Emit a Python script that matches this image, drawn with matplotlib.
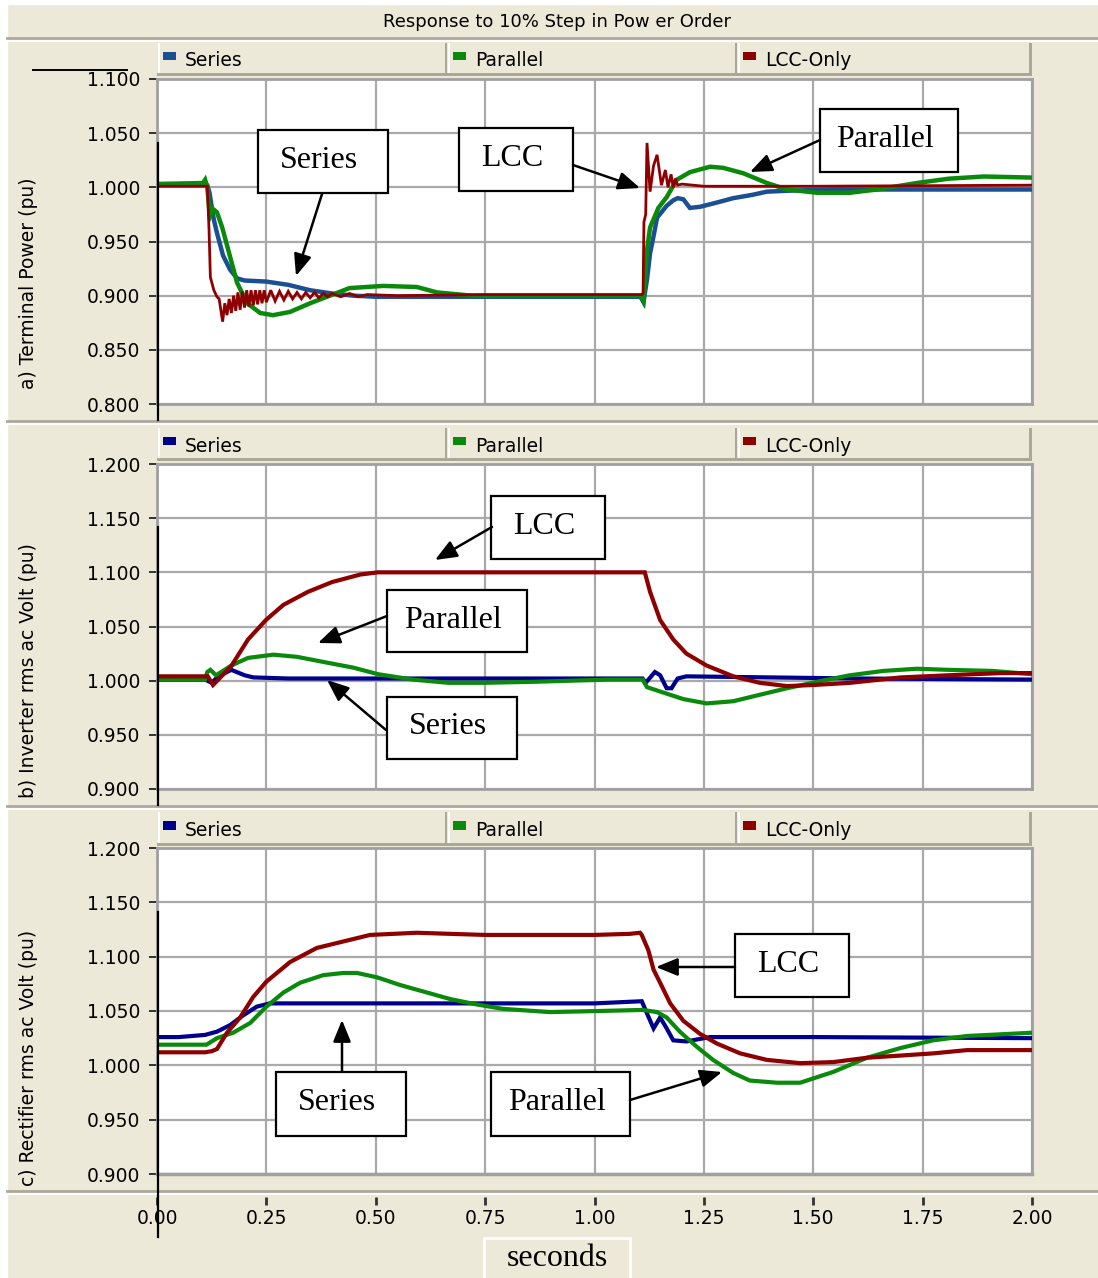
import matplotlib
matplotlib.use('Agg')
import matplotlib.pyplot as plt
from matplotlib.patches import Rectangle, FancyArrowPatch
from matplotlib.lines import Line2D

W, H = 1098, 1278
BEIGE = '#ECE9D8'
EDGE = '#ACA899'
GRID = '#A9A9A9'
GREEN = '#0A8A0A'
RED = '#8E0000'
BLUE_A = '#1A4F93'
NAVY = '#00008C'

# ---- data (time in s, values in pu) ----
# a) terminal power
t_a_ser = [0.00, 0.11, 0.115, 0.12, 0.125, 0.13, 0.137, 0.151, 0.167, 0.183, 0.20, 0.25, 0.30,
           0.35, 0.40, 0.45, 0.50, 0.75, 1.00, 1.105, 1.112, 1.12, 1.127, 1.135, 1.143, 1.155,
           1.165, 1.18, 1.19, 1.203, 1.218, 1.241, 1.28, 1.317, 1.36, 1.394, 1.45, 1.55, 2.00]
p_a_ser = [1.003, 1.003, 1.002, 0.995, 0.982, 0.970, 0.958, 0.937, 0.924, 0.916, 0.914, 0.913, 0.910,
           0.905, 0.902, 0.900, 0.899, 0.899, 0.899, 0.899, 0.894, 0.915, 0.939, 0.955, 0.972, 0.978,
           0.983, 0.988, 0.990, 0.989, 0.981, 0.982, 0.986, 0.990, 0.993, 0.996, 0.997, 0.998, 0.998]

t_a_par = [0.00, 0.105, 0.11, 0.115, 0.121, 0.128, 0.137, 0.149, 0.167, 0.183, 0.206, 0.236, 0.265,
           0.304, 0.35, 0.395, 0.44, 0.517, 0.594, 0.64, 0.72, 1.00, 1.105, 1.112, 1.12, 1.127,
           1.146, 1.165, 1.188, 1.218, 1.264, 1.294, 1.34, 1.394, 1.44, 1.509, 1.584, 1.646,
           1.737, 1.81, 1.89, 2.00]
p_a_par = [1.003, 1.004, 1.007, 1.000, 0.973, 0.980, 0.977, 0.963, 0.936, 0.912, 0.893, 0.884, 0.882,
           0.885, 0.893, 0.900, 0.907, 0.909, 0.908, 0.903, 0.900, 0.900, 0.900, 0.895, 0.942, 0.963,
           0.981, 0.991, 1.007, 1.014, 1.019, 1.018, 1.013, 1.004, 0.998, 0.995, 0.995, 0.998,
           1.004, 1.008, 1.010, 1.009]

t_a_lcc = [0.00, 0.115, 0.119, 0.122, 0.13, 0.137, 0.142, 0.15, 0.155, 0.16, 0.165, 0.17, 0.175,
           0.18, 0.185, 0.19, 0.195, 0.20, 0.205, 0.21, 0.215, 0.22, 0.225, 0.23, 0.235, 0.24,
           0.245, 0.25, 0.26, 0.27, 0.28, 0.29, 0.30, 0.31, 0.32, 0.33, 0.34, 0.35, 0.36, 0.37,
           0.38, 0.39, 0.40, 0.42, 0.44, 0.46, 0.48, 0.55, 0.75, 1.00, 1.108, 1.111, 1.113, 1.117,
           1.12, 1.127, 1.135, 1.143, 1.153, 1.162, 1.168, 1.175, 1.18, 1.185, 1.19, 1.20, 1.25,
           1.50, 2.00]
p_a_lcc = [1.001, 1.001, 0.960, 0.917, 0.905, 0.899, 0.897, 0.876, 0.893, 0.882, 0.897, 0.884, 0.900,
           0.886, 0.903, 0.887, 0.904, 0.889, 0.905, 0.890, 0.905, 0.891, 0.905, 0.892, 0.905, 0.893,
           0.905, 0.894, 0.905, 0.895, 0.904, 0.896, 0.904, 0.897, 0.903, 0.897, 0.903, 0.898, 0.903,
           0.898, 0.902, 0.899, 0.902, 0.899, 0.902, 0.899, 0.901, 0.900, 0.901, 0.901, 0.901, 0.902,
           0.968, 0.975, 1.041, 0.996, 1.020, 1.030, 1.002, 1.016, 1.000, 1.012, 1.000, 1.008, 1.002,
           1.003, 1.001, 1.001, 1.002]

# b) inverter rms ac voltage
t_b_ser = [0.00, 0.11, 0.125, 0.14, 0.17, 0.20, 0.22, 0.30, 0.60, 0.90, 1.11, 1.117, 1.138, 1.15,
           1.165, 1.176, 1.19, 1.21, 1.40, 1.60, 2.00]
v_b_ser = [1.001, 1.001, 0.998, 1.004, 1.010, 1.005, 1.003, 1.002, 1.002, 1.002, 1.002, 0.998, 1.008,
           1.005, 0.993, 0.993, 1.002, 1.004, 1.003, 1.002, 1.001]

t_b_par = [0.00, 0.11, 0.115, 0.122, 0.135, 0.17, 0.208, 0.266, 0.32, 0.384, 0.449, 0.505, 0.585,
           0.666, 0.746, 0.866, 1.03, 1.11, 1.12, 1.165, 1.203, 1.256, 1.317, 1.378, 1.44, 1.509,
           1.584, 1.66, 1.737, 1.81, 1.91, 2.00]
v_b_par = [1.001, 1.001, 1.008, 1.010, 1.005, 1.014, 1.021, 1.024, 1.022, 1.017, 1.012, 1.006, 1.001,
           0.998, 0.998, 0.999, 1.001, 1.001, 0.994, 0.988, 0.983, 0.979, 0.981, 0.987, 0.993, 0.999,
           1.005, 1.009, 1.011, 1.010, 1.009, 1.006]

t_b_lcc = [0.00, 0.116, 0.128, 0.169, 0.208, 0.249, 0.289, 0.345, 0.40, 0.465, 0.505, 0.75, 1.00,
           1.115, 1.127, 1.15, 1.18, 1.21, 1.256, 1.317, 1.378, 1.44, 1.50, 1.584, 1.70, 1.81,
           1.93, 2.00]
v_b_lcc = [1.004, 1.004, 0.996, 1.013, 1.038, 1.056, 1.070, 1.082, 1.091, 1.098, 1.100, 1.100, 1.100,
           1.100, 1.082, 1.056, 1.038, 1.025, 1.014, 1.004, 0.998, 0.995, 0.996, 0.998, 1.003, 1.005,
           1.007, 1.007]

# c) rectifier rms ac voltage
t_c_ser = [0.00, 0.05, 0.11, 0.137, 0.167, 0.197, 0.228, 0.258, 0.50, 0.75, 1.00, 1.108, 1.123,
           1.135, 1.15, 1.165, 1.18, 1.21, 1.264, 1.50, 2.00]
v_c_ser = [1.026, 1.026, 1.028, 1.031, 1.037, 1.046, 1.054, 1.057, 1.057, 1.057, 1.057, 1.059, 1.045,
           1.034, 1.044, 1.034, 1.023, 1.022, 1.026, 1.026, 1.025]

t_c_par = [0.00, 0.113, 0.137, 0.174, 0.213, 0.25, 0.289, 0.327, 0.38, 0.426, 0.457, 0.503, 0.555,
           0.617, 0.67, 0.731, 0.79, 0.898, 1.01, 1.11, 1.143, 1.165, 1.195, 1.234, 1.271, 1.317,
           1.355, 1.417, 1.47, 1.546, 1.623, 1.70, 1.774, 1.851, 2.00]
v_c_par = [1.019, 1.019, 1.025, 1.030, 1.039, 1.054, 1.067, 1.076, 1.083, 1.085, 1.085, 1.081, 1.074,
           1.067, 1.061, 1.056, 1.052, 1.049, 1.050, 1.051, 1.049, 1.044, 1.031, 1.017, 1.005, 0.993,
           0.986, 0.984, 0.984, 0.994, 1.007, 1.016, 1.023, 1.027, 1.030]

t_c_lcc = [0.00, 0.11, 0.125, 0.137, 0.16, 0.19, 0.22, 0.25, 0.304, 0.365, 0.426, 0.487, 0.594,
           0.67, 0.75, 1.00, 1.081, 1.104, 1.108, 1.123, 1.135, 1.15, 1.173, 1.203, 1.241, 1.28,
           1.333, 1.394, 1.47, 1.546, 1.623, 1.70, 1.774, 1.851, 2.00]
v_c_lcc = [1.012, 1.012, 1.013, 1.015, 1.030, 1.044, 1.063, 1.077, 1.095, 1.108, 1.114, 1.120, 1.122,
           1.121, 1.120, 1.120, 1.121, 1.122, 1.120, 1.106, 1.088, 1.076, 1.057, 1.041, 1.029, 1.020,
           1.011, 1.005, 1.002, 1.003, 1.007, 1.009, 1.011, 1.014, 1.014]

legend_names = ['Series', 'Parallel', 'LCC-Only']
x_ticks = [0.00, 0.25, 0.50, 0.75, 1.00, 1.25, 1.50, 1.75, 2.00]
y_labels = ['a) Terminal Power (pu)', 'b) Inverter rms ac Volt (pu)', 'c) Rectifier rms ac Volt (pu)']
title = 'Response to 10% Step in Pow er Order'

PT = 72 / 100  # points per pixel


def fx(px):
    return px / W


def fy(py):
    return 1 - py / H


def box(x0, y0, x1, y1):
    return [fx(x0), fy(y1), (x1 - x0) / W, (y1 - y0) / H]


fig = plt.figure(figsize=(W / 100, H / 100), dpi=100)
fig.patch.set_facecolor(BEIGE)

# white margins / separators of the original screenshot
fig.add_artist(Rectangle((0, 0), fx(7), 1, transform=fig.transFigure, color='white', zorder=0))
fig.add_artist(Rectangle((0, fy(4)), 1, 4 / H, transform=fig.transFigure, color='white', zorder=0))
for ys in [38, 421, 806, 1191]:
    fig.add_artist(Line2D([fx(7), 1], [fy(ys), fy(ys)], color=EDGE, lw=2, zorder=1))
    fig.add_artist(Line2D([fx(7), 1], [fy(ys + 2.5), fy(ys + 2.5)], color='white', lw=1.5, zorder=1))

fig.text(fx(557), fy(22), title, ha='center', va='center', fontsize=13, family='DejaVu Sans')

panels = [
    dict(ax=(157, 79, 1032, 404), leg=(157, 43, 1032, 76), ylim=(0.8, 1.1), blue=BLUE_A,
         lab_y=283,
         lines=[(t_a_ser, p_a_ser, BLUE_A, 3.2), (t_a_par, p_a_par, GREEN, 3.2),
                (t_a_lcc, p_a_lcc, RED, 2.0)]),
    dict(ax=(157, 464, 1032, 789), leg=(157, 428, 1032, 461), ylim=(0.9, 1.2), blue=NAVY,
         lab_y=671,
         lines=[(t_b_ser, v_b_ser, NAVY, 3.0), (t_b_par, v_b_par, GREEN, 3.0),
                (t_b_lcc, v_b_lcc, RED, 3.0)]),
    dict(ax=(157, 848, 1032, 1174), leg=(157, 812, 1032, 846), ylim=(0.9, 1.2), blue=NAVY,
         lab_y=1058,
         lines=[(t_c_ser, v_c_ser, NAVY, 3.0), (t_c_par, v_c_par, GREEN, 3.0),
                (t_c_lcc, v_c_lcc, RED, 3.0)]),
]

for i, p in enumerate(panels):
    ax = fig.add_axes(box(*p['ax']))
    ax.set_facecolor('white')
    for t, v, c, lw in p['lines']:
        ax.plot(t, v, color=c, lw=lw, solid_joinstyle='miter', zorder=3)
    ax.set_xlim(0, 2.0)
    y0, y1 = p['ylim']
    ax.set_ylim(y0, y1)
    yt = [round(y0 + 0.05 * k, 3) for k in range(7)]
    ax.set_yticks(yt)
    ax.set_yticklabels([f'{y:.3f}' for y in yt], fontsize=13.5)
    ax.set_xticks(x_ticks)
    ax.grid(True, color=GRID, lw=1.6, zorder=1)
    ax.set_axisbelow(True)
    ax.tick_params(axis='y', direction='out', length=6, width=1.4, color='#333333', pad=6)
    for s in ax.spines.values():
        s.set_color('#A0A0A0')
        s.set_linewidth(2)
    if i < 2:
        ax.tick_params(axis='x', length=0, labelbottom=False)
    else:
        ax.spines['bottom'].set_position(('outward', 23 * PT))
        ax.spines['bottom'].set_visible(False)
        ax.set_xticklabels([f'{x:.2f}' for x in x_ticks], fontsize=13.5)
        ax.tick_params(axis='x', direction='out', length=8 * PT, width=2, color='#333333',
                       pad=4 * PT)
        ax.axhline(y0, color='#A0A0A0', lw=2.5, zorder=2, clip_on=False)

    fig.text(fx(28), fy(p['lab_y']), y_labels[i], rotation=90, ha='center', va='center',
             fontsize=13.5, family='DejaVu Sans')

    # legend bar across the top of each panel
    lg = fig.add_axes(box(*p['leg']))
    lg.set_xlim(0, 875)
    lg.set_ylim(33, 0)
    lg.axis('off')
    cells = [0, 290, 580, 875]
    colors = [p['blue'], GREEN, RED]
    for k in range(3):
        xa, xb = cells[k], cells[k + 1]
        lg.add_patch(Rectangle((xa, 0), xb - xa, 33, facecolor=BEIGE, edgecolor='none'))
        lg.add_patch(Rectangle((xa, 30), xb - xa, 3, facecolor=EDGE, edgecolor='none'))
        lg.add_patch(Rectangle((xa + 1, 0), 1.5, 30, facecolor='white', edgecolor='none'))
        if k > 0:
            lg.add_patch(Rectangle((xa - 2, 0), 2, 30, facecolor=EDGE, edgecolor='none'))
        lg.add_patch(Rectangle((xa + 6, 9), 13, 8, facecolor=colors[k], edgecolor='none'))
        lg.text(xa + 28, 18, legend_names[k], va='center', ha='left', fontsize=13.5)
    lg.add_patch(Rectangle((872, 0), 3, 33, facecolor=EDGE, edgecolor='none'))

# black stray lines of the pasted screenshot
for ya, yb in [(143, 420), (527, 805), (912, 1237)]:
    fig.add_artist(Line2D([fx(158), fx(158)], [fy(ya), fy(yb)], color='black', lw=1.6, zorder=6))
fig.add_artist(Line2D([fx(33), fx(127)], [fy(70), fy(70)], color='black', lw=1.4, zorder=6))

# annotation boxes with arrows
notes = [
    ('Series', (258, 130, 388, 193), (322, 194), (296, 276)),
    ('LCC', (459, 128, 573, 191), (573, 165), (640, 188)),
    ('Parallel', (820, 109, 958, 172), (820, 140), (750, 172)),
    ('LCC', (491, 496, 605, 559), (492, 527), (435, 560)),
    ('Parallel', (387, 590, 527, 652), (387, 616), (318, 643)),
    ('Series', (387, 697, 517, 759), (386, 730), (327, 680)),
    ('LCC', (735, 934, 849, 997), (735, 967), (656, 967)),
    ('Series', (276, 1072, 406, 1136), (342, 1071), (342, 1020)),
    ('Parallel', (491, 1072, 630, 1136), (630, 1100), (722, 1072)),
]
for txt, (x0, y0, x1, y1), a, b in notes:
    fig.add_artist(Rectangle((fx(x0), fy(y1)), (x1 - x0) / W, (y1 - y0) / H,
                             transform=fig.transFigure, facecolor='white',
                             edgecolor='black', lw=1.6, zorder=7))
    fig.text(fx((x0 + x1) / 2 - 4), fy((y0 + y1) / 2 - 1), txt, ha='center', va='center',
             fontsize=23, family='Liberation Serif', zorder=8)
    fig.add_artist(FancyArrowPatch((fx(a[0]), fy(a[1])), (fx(b[0]), fy(b[1])),
                                   transform=fig.transFigure,
                                   arrowstyle='-|>,head_length=1.1,head_width=0.45',
                                   mutation_scale=12, color='black', lw=1.8,
                                   shrinkA=0, shrinkB=0, zorder=7))

# x axis title box
fig.add_artist(Rectangle((fx(484), fy(1279)), 146 / W, 41 / H, transform=fig.transFigure,
                         facecolor=BEIGE, edgecolor='white', lw=2, zorder=2))
fig.text(fx(557), fy(1258), 'seconds', ha='center', va='center', fontsize=23,
         family='Liberation Serif', zorder=3)

fig.savefig('out.png', dpi=100, facecolor=fig.get_facecolor())
